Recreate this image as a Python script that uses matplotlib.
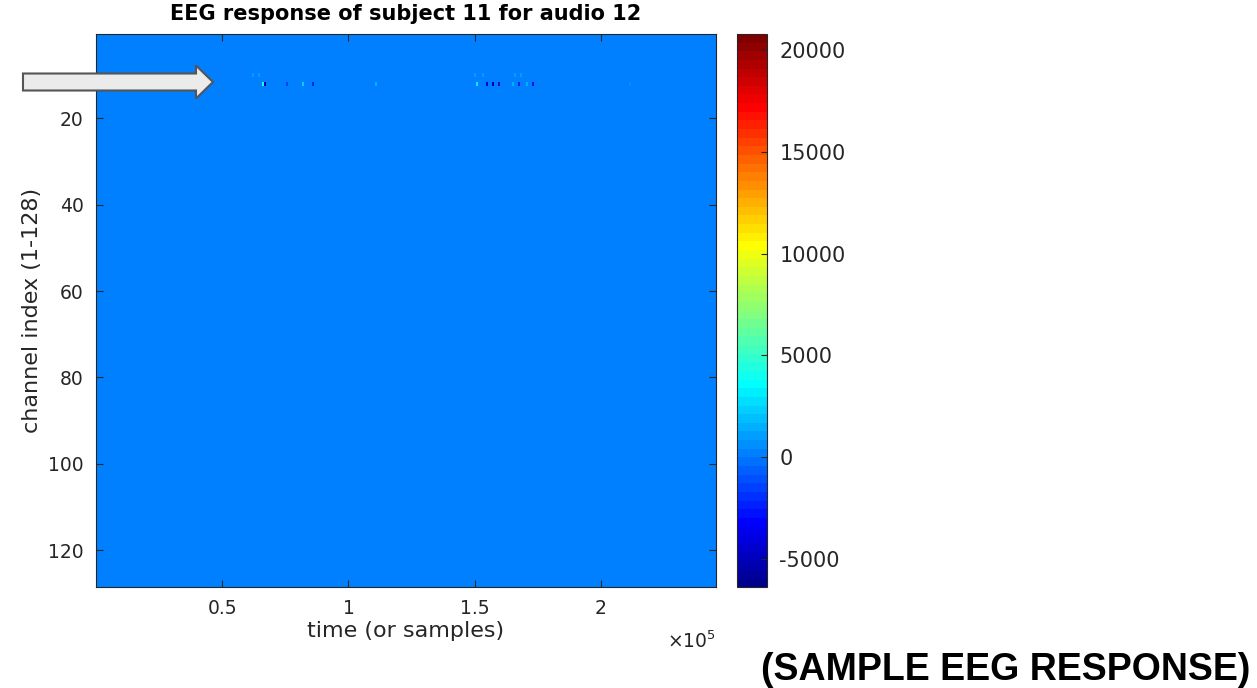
import numpy as np
import matplotlib
matplotlib.use("Agg")
import matplotlib.pyplot as plt
from matplotlib.colors import ListedColormap
from matplotlib.patches import FancyArrow
from matplotlib.ticker import FuncFormatter

plt.rcParams["axes.unicode_minus"] = False

# recording size
n_channels = 128
n_samples = 245600
n_cols = 307  # columns drawn (800 samples each)

# spikes (channel 12 and a fainter row at channel 10)
spike_time = [65900, 66700, 75800, 81700, 85700, 111100, 150800, 154800,
              157100, 159900, 165000, 167800, 170600, 173000, 211500]
spike_chan = [12] * 15
spike_value = [4500, -5500, -1500, 2500, -2500, 1500, 3000, -3500,
               -5000, -4000, 1500, -2500, 1500, -3000, 800]

faint_time = [62000, 64500, 150000, 153000, 166000, 168000]
faint_chan = [10] * 6
faint_value = [1200, 1000, 1200, 900, 1100, 900]

clim = (-6400, 20800)
cbar_ticks = [-5000, 0, 5000, 10000, 15000, 20000]
y_ticks = [20, 40, 60, 80, 100, 120]
x_ticks = [50000, 100000, 150000, 200000]


def matlab_jet(m=64):
    # same construction as matlab's jet(m)
    n = int(np.ceil(m / 4))
    u = np.r_[np.arange(1, n + 1) / n, np.ones(n - 1), np.arange(n, 0, -1) / n]
    g = int(np.ceil(n / 2)) - (m % 4 == 1) + np.arange(1, len(u) + 1)
    r = g + n
    b = g - n
    g = g[g <= m]
    r = r[r <= m]
    b = b[b >= 1]
    J = np.zeros((m, 3))
    J[r - 1, 0] = u[:len(r)]
    J[g - 1, 1] = u[:len(g)]
    J[b - 1, 2] = u[len(u) - len(b):]
    return ListedColormap(J)


eeg = np.zeros((n_channels, n_cols))
step = n_samples / n_cols
for t, c, v in zip(spike_time + faint_time, spike_chan + faint_chan,
                   spike_value + faint_value):
    eeg[c - 1, int(t / step)] = v

txt = "#262626"
fig = plt.figure(figsize=(12.57, 6.88), dpi=100)
ax = fig.add_axes([96 / 1257, 1 - 587 / 688, 620 / 1257, 553 / 688])
cax = fig.add_axes([737 / 1257, 1 - 587 / 688, 30 / 1257, 553 / 688])

im = ax.imshow(eeg, aspect="auto", cmap=matlab_jet(64), vmin=clim[0],
               vmax=clim[1], interpolation="nearest",
               extent=[0.5, n_samples + 0.5, n_channels + 0.5, 0.5])

ax.set_yticks(y_ticks)
ax.set_xticks(x_ticks)
ax.xaxis.set_major_formatter(FuncFormatter(lambda v, p: f"{v / 1e5:g}"))
ax.tick_params(direction="in", length=5, top=True, right=True,
               labelsize=13.5, colors=txt, labelcolor=txt, pad=9)
for s in ax.spines.values():
    s.set_color(txt)
    s.set_linewidth(0.8)

ax.set_title("EEG response of subject 11 for audio 12", fontsize=15,
             fontweight="bold", pad=10)
ax.set_xlabel("time (or samples)", fontsize=16, color=txt, labelpad=2)
ax.set_ylabel("channel index (1-128)", fontsize=16, color=txt, labelpad=4)
ax.text(1.0, -0.098, r"$\times10^5$", transform=ax.transAxes, ha="right",
        va="center", fontsize=13.5, color=txt)

cb = fig.colorbar(im, cax=cax, ticks=cbar_ticks)
cb.ax.tick_params(direction="in", length=4, labelsize=15, colors=txt,
                  labelcolor=txt, pad=9)
cb.outline.set_edgecolor(txt)
cb.outline.set_linewidth(0.8)

# arrow pointing at the noisy channel
arrow = FancyArrow(0.23, 6.06, 1.90, 0, width=0.17, head_width=0.33,
                   head_length=0.17, length_includes_head=True,
                   transform=fig.dpi_scale_trans, facecolor="#ebebeb",
                   edgecolor="#555555", linewidth=1.5)
fig.add_artist(arrow)

fig.text(1250 / 1257, 1 - 680 / 688, "(SAMPLE EEG RESPONSE)",
         ha="right", va="baseline", fontsize=27, fontweight="bold",
         family="Liberation Sans")

fig.savefig("out.png", dpi=100)
